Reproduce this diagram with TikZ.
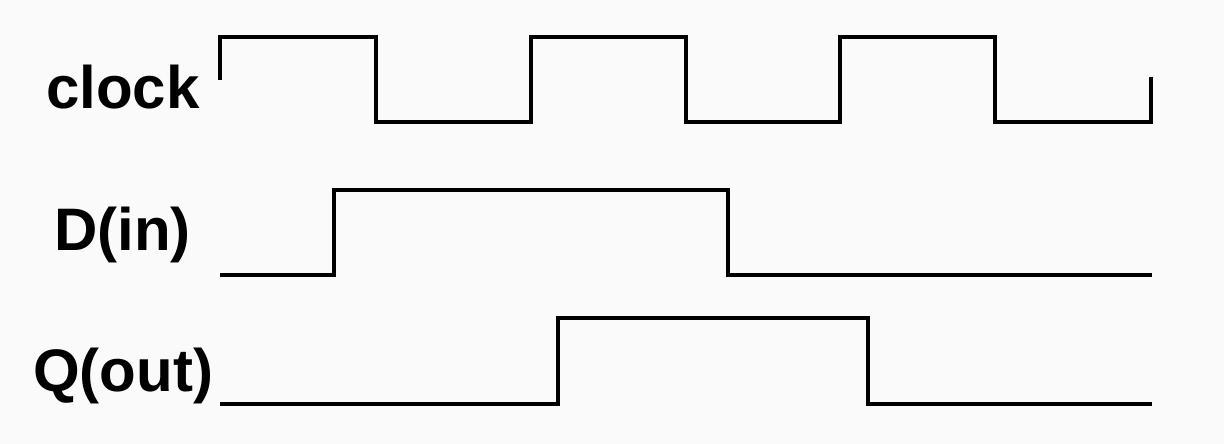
\documentclass[tikz,border=0pt]{standalone}
\usepackage{fontspec}
\setmainfont{Liberation Sans}
\usetikzlibrary{positioning}
\tikzset{
  wave/.style={line width=4pt, line join=miter, line cap=butt},
  sig/.style={font=\bfseries\fontsize{60}{62}\selectfont, inner sep=0pt, anchor=base west},
}

\begin{document}
\begin{tikzpicture}[x=1pt,y=-1pt]
\useasboundingbox (0,0) rectangle (1224,444);
\fill[black!2] (0,0) rectangle (1224,444);
% labels
\node[sig] (clk) at (46,108) {clock};
\node[sig] (din) at (54,250) {D(in)};
\node[sig] (qout) at (33,391) {Q(out)};
% clock
\draw[wave] (220,80) -- (220,37) -- (376,37) -- (376,122) -- (531,122) -- (531,37)
  -- (686,37) -- (686,122) -- (840,122) -- (840,37) -- (995,37) -- (995,122)
  -- (1151,122) -- (1151,77);
% D(in)
\draw[wave] (220,275) -- (334,275) -- (334,190) -- (728,190) -- (728,275) -- (1152,275);
% Q(out)
\draw[wave] (220,404) -- (558,404) -- (558,318) -- (868,318) -- (868,404) -- (1152,404);
\end{tikzpicture}
\end{document}
